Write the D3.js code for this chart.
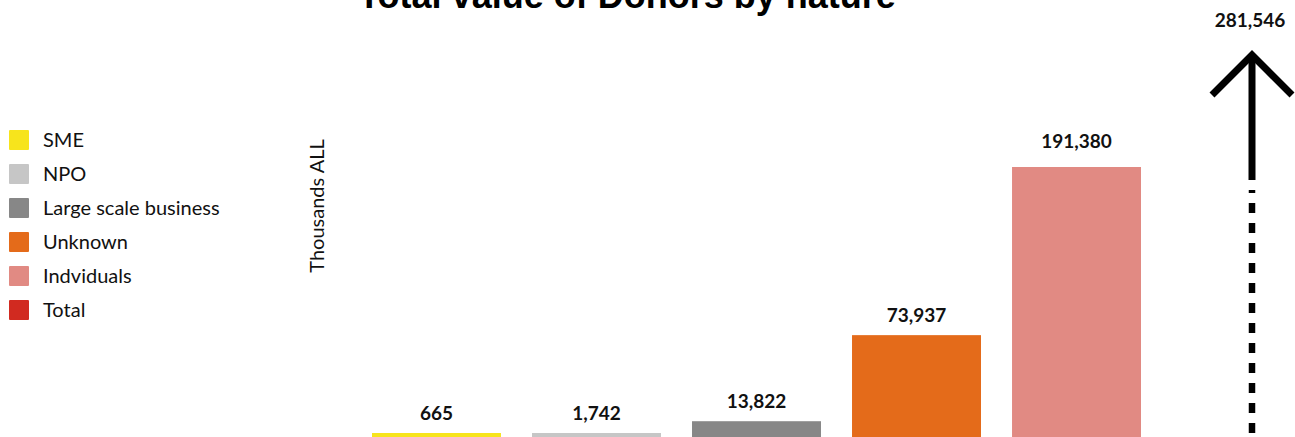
<!DOCTYPE html>
<html>
<head>
<meta charset="utf-8">
<script src="https://cdn.jsdelivr.net/npm/d3@7"></script>
<style>
  html, body { margin: 0; padding: 0; background: #fff; overflow: hidden; }
  svg { display: block; }
</style>
</head>
<body>
<svg id="chart" width="1295" height="437"></svg>
<script>
// ---- data ----
const categories = ["SME", "NPO", "Large scale business", "Unknown", "Indviduals"];
const values = [665, 1742, 13822, 73937, 191380];
const totalLabel = "Total";
const totalValue = 281546;
const legendLabels = ["SME", "NPO", "Large scale business", "Unknown", "Indviduals", "Total"];
const colors = ["#f7e41c", "#c6c6c6", "#878787", "#e46b1a", "#e18a83", "#d12a20"];
const titleText = "Total value of Donors by nature";
const axisLabel = "Thousands ALL";

const svg = d3.select("#chart");
const fmt = d3.format(",");

// scales
const x = d3.scaleBand().domain(categories).range([372, 1141]).paddingInner(0.194).paddingOuter(0);
const y = d3.scaleLinear().domain([0, 191380]).range([441, 167]);
const color = d3.scaleOrdinal().domain(legendLabels).range(colors);
const minH = 8;
const barTop = v => Math.min(y(v), y(0) - minH);

// title
svg.append("text")
  .attr("x", 627).attr("y", 8)
  .attr("text-anchor", "middle")
  .style("font-family", "'Liberation Sans', Arial, sans-serif")
  .style("font-weight", "bold")
  .style("font-size", "36px")
  .text(titleText);

// legend
const lg = svg.append("g").attr("transform", "translate(9,130)");
const items = lg.selectAll("g").data(legendLabels).enter().append("g")
  .attr("transform", (d, i) => `translate(0,${i * 34})`);
items.append("rect").attr("width", 20).attr("height", 20).attr("rx", 1).attr("fill", d => color(d));
items.append("text").attr("x", 34).attr("y", 17)
  .style("font-family", "Lato, sans-serif").style("font-size", "20px").attr("fill", "#111")
  .text(d => d);

// axis label
svg.append("text")
  .attr("transform", "translate(324,206) rotate(-90)")
  .attr("text-anchor", "middle")
  .style("font-family", "Lato, sans-serif").style("font-size", "20px").attr("fill", "#111")
  .text(axisLabel);

// bars
const data = categories.map((c, i) => ({ c, v: values[i] }));
svg.append("g").selectAll("rect").data(data).enter().append("rect")
  .attr("x", d => x(d.c))
  .attr("width", x.bandwidth())
  .attr("y", d => barTop(d.v))
  .attr("height", d => y(0) - barTop(d.v))
  .attr("fill", d => color(d.c));

svg.append("g").selectAll("text").data(data).enter().append("text")
  .attr("x", d => x(d.c) + x.bandwidth() / 2)
  .attr("y", d => barTop(d.v) - (d.v > 100000 ? 19 : 13))
  .attr("text-anchor", "middle")
  .style("font-family", "Lato, sans-serif").style("font-weight", "bold").style("font-size", "19px")
  .attr("fill", "#111")
  .text(d => fmt(d.v));

// total: broken arrow
const ax = 1252;
const breakY = 190, solidStart = 180, tipY = 55;
svg.append("line")
  .attr("x1", ax).attr("x2", ax).attr("y1", y(0)).attr("y2", breakY)
  .attr("stroke", "#000").attr("stroke-width", 6.5)
  .attr("stroke-dasharray", "10,10").attr("stroke-dashoffset", 12);
svg.append("line")
  .attr("x1", ax).attr("x2", ax).attr("y1", solidStart).attr("y2", tipY)
  .attr("stroke", "#000").attr("stroke-width", 7);
svg.append("path")
  .attr("d", `M${ax - 40},${tipY + 40}L${ax},${tipY}L${ax + 40},${tipY + 40}`)
  .attr("fill", "none").attr("stroke", "#000").attr("stroke-width", 7)
  .attr("stroke-linejoin", "miter");
svg.append("text")
  .attr("x", 1250).attr("y", 27)
  .attr("text-anchor", "middle")
  .style("font-family", "Lato, sans-serif").style("font-weight", "bold").style("font-size", "19px")
  .attr("fill", "#111")
  .text(fmt(totalValue));
</script>
</body>
</html>
